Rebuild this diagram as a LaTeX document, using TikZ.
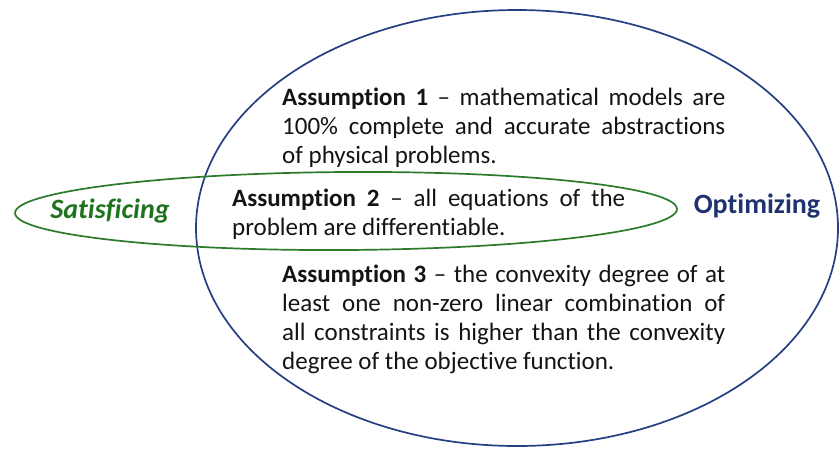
\documentclass[tikz,border=0pt]{standalone}
\usepackage{fontspec}
\setmainfont{Carlito}[Ligatures={NoCommon,NoRare,NoContextual}]
\usetikzlibrary{shapes.geometric}
\definecolor{navyline}{RGB}{38,62,130}
\definecolor{navytext}{RGB}{31,52,110}
\definecolor{greenline}{RGB}{44,122,44}
\definecolor{greentext}{RGB}{30,115,30}
\definecolor{bodytext}{RGB}{20,20,20}
\tikzset{
  bigset/.style={ellipse, draw=navyline, line width=1.7pt, inner sep=0pt},
  smallset/.style={ellipse, draw=greenline, line width=1.7pt, inner sep=0pt},
  assume/.style={inner sep=0pt, anchor=base west, align=justify, text=bodytext,
     font=\fontsize{25}{29.3}\selectfont},
  setlabel/.style={inner sep=0pt, anchor=base, font=\fontsize{28}{32}\selectfont\bfseries}
}
\begin{document}
\begin{tikzpicture}[x=1pt,y=-1pt]
\useasboundingbox (0,0) rectangle (840,448);
\node[bigset, minimum width=642pt, minimum height=436pt] (opt) at (517,228) {};
\node[smallset, minimum width=662pt, minimum height=78pt, rotate=0.35] (sat) at (346,211) {};
\node[setlabel, text=greentext, font=\fontsize{28}{32}\selectfont\bfseries\itshape] (satl) at (110,218) {Satisficing};
\node[setlabel, text=navytext] (optl) at (757,213) {Optimizing};
\node[assume, text width=443pt] (a1) at (282,105) {\textbf{Assumption 1} -- mathematical models are\linebreak 100\% complete and accurate abstractions\linebreak of physical problems.};
\node[assume, text width=393pt] (a2) at (232,206) {\textbf{Assumption 2} -- all equations of the\linebreak problem are differentiable.};
\node[assume, text width=443pt] (a3) at (282,282) {\textbf{Assumption 3} -- the convexity degree of at\linebreak least one non-zero linear combination of\linebreak all constraints is higher than the convexity\linebreak degree of the objective function.};
\end{tikzpicture}
\end{document}
